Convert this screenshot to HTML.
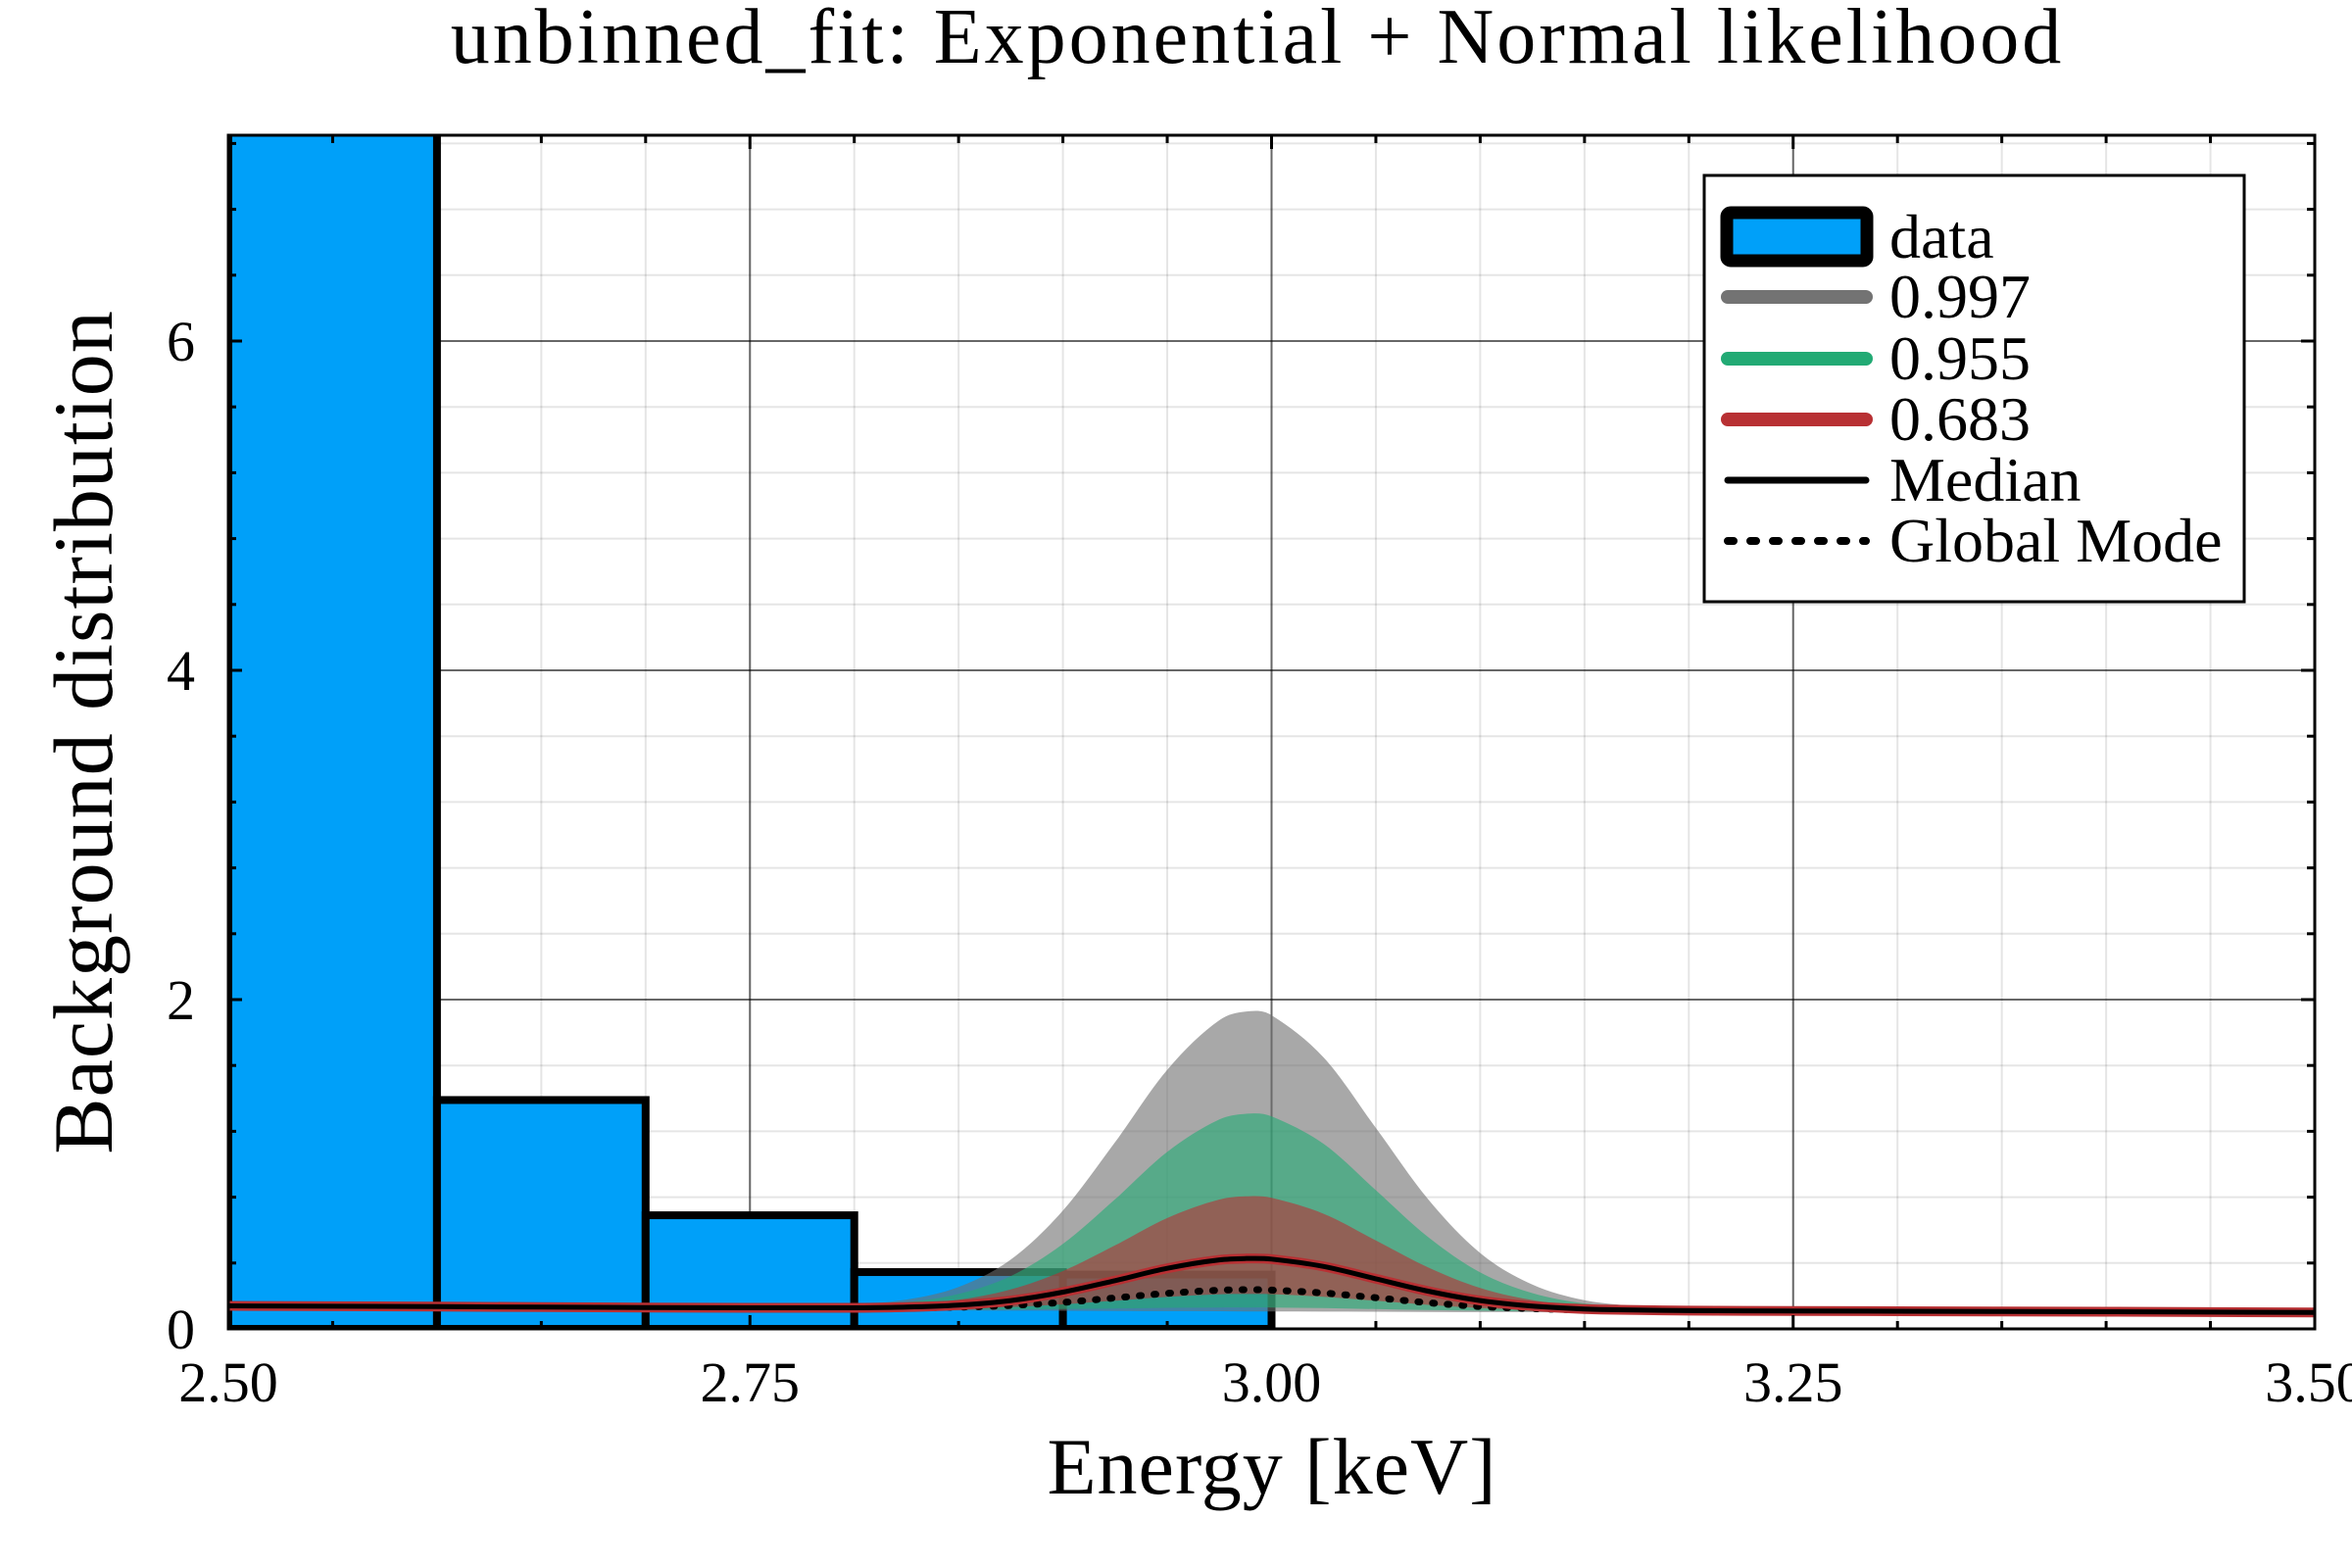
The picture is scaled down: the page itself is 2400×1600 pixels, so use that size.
<!DOCTYPE html>
<html><head><meta charset="utf-8"><style>
html,body{margin:0;padding:0;background:#fff;}
svg{display:block;font-family:"Liberation Serif",serif;}
</style></head><body>
<svg id="chart" width="2400" height="1600" viewBox="0 0 2400 1600" xmlns="http://www.w3.org/2000/svg">
<defs><clipPath id="plotclip"><rect x="233" y="138" width="2129" height="1218"/></clipPath></defs>
<rect width="2400" height="1600" fill="#fff"/>
<text x="1283" y="64" font-size="80" letter-spacing="3" text-anchor="middle">unbinned_fit: Exponential + Normal likelihood</text>
<g id="grid"></g>
<g id="marks" clip-path="url(#plotclip)"></g>
<g id="axes"></g>
<text x="1298" y="1524" font-size="82" letter-spacing="1" text-anchor="middle">Energy [keV]</text>
<text transform="translate(114,747) rotate(-90)" font-size="86" letter-spacing="1" text-anchor="middle">Background distribution</text>
<g id="legend"></g>
</svg>
<script>
const binEdges = [2.5,2.6,2.7,2.8,2.9,3.0,3.1,3.2,3.3,3.4,3.5];
const binCounts = [7.3,1.39,0.69,0.345,0.33,0,0,0,0,0];
const xTicks = [2.5,2.75,3.0,3.25,3.5];
const xTickLabels = ["2.50","2.75","3.00","3.25","3.50"];
const yTicks = [0,2,4,6];
const yTickLabels = ["0","2","4","6"];
const curveX = [2.5,2.6,2.7,2.75,2.8,2.825,2.85,2.875,2.9,2.925,2.95,2.975,2.99,3.0,3.025,3.05,3.075,3.1,3.125,3.15,3.175,3.2,3.3,3.4,3.5];
const medianY = [0.140,0.135,0.130,0.128,0.128,0.132,0.144,0.172,0.223,0.293,0.368,0.419,0.428,0.424,0.379,0.304,0.229,0.172,0.138,0.121,0.114,0.111,0.107,0.104,0.100];
const modeY = [0.140,0.135,0.130,0.128,0.127,0.128,0.132,0.142,0.161,0.188,0.216,0.235,0.238,0.236,0.218,0.189,0.159,0.136,0.123,0.115,0.112,0.110,0.107,0.104,0.100];
const band997Upper = [0.152,0.147,0.142,0.140,0.151,0.178,0.255,0.421,0.719,1.134,1.574,1.875,1.930,1.905,1.648,1.221,0.788,0.461,0.269,0.174,0.139,0.126,0.119,0.116,0.112];
const band997Lower = [0.128,0.123,0.118,0.116,0.114,0.113,0.112,0.111,0.110,0.109,0.108,0.107,0.106,0.106,0.105,0.104,0.103,0.102,0.101,0.100,0.099,0.098,0.095,0.092,0.088];
const band955Upper = [0.150,0.145,0.140,0.138,0.144,0.162,0.212,0.321,0.516,0.787,1.075,1.272,1.308,1.291,1.123,0.842,0.558,0.343,0.217,0.155,0.132,0.122,0.117,0.114,0.110];
const band955Lower = [0.132,0.127,0.122,0.120,0.118,0.117,0.117,0.118,0.121,0.124,0.128,0.130,0.130,0.130,0.126,0.120,0.114,0.110,0.107,0.105,0.103,0.102,0.099,0.096,0.092];
const band683Upper = [0.148,0.143,0.138,0.136,0.139,0.149,0.177,0.239,0.351,0.507,0.673,0.786,0.806,0.796,0.699,0.537,0.373,0.248,0.175,0.139,0.125,0.119,0.115,0.112,0.108];
const band683Lower = [0.134,0.129,0.124,0.122,0.121,0.121,0.125,0.133,0.149,0.171,0.194,0.210,0.212,0.211,0.195,0.171,0.146,0.127,0.115,0.109,0.106,0.104,0.101,0.098,0.094];

const NS="http://www.w3.org/2000/svg";
const L=233,R=2362,T=138,B=1356;
const X0=2.5,X1=3.5,Y0=0,Y1=7.25;
function xs(v){return L+(v-X0)/(X1-X0)*(R-L);}
function ys(v){return B-(v-Y0)/(Y1-Y0)*(B-T);}
function mk(tag,attrs,parent){const e=document.createElementNS(NS,tag);for(const k in attrs)e.setAttribute(k,attrs[k]);parent.appendChild(e);return e;}
function smooth(p){const n=p.length,m=[];
 for(let i=0;i<n;i++){const a=p[Math.max(0,i-1)],b=p[Math.min(n-1,i+1)];m.push((b[1]-a[1])/(b[0]-a[0]));}
 let d="M"+p[0][0].toFixed(1)+","+p[0][1].toFixed(1);
 for(let i=0;i<n-1;i++){const dx=(p[i+1][0]-p[i][0])/3;
  d+=" C"+(p[i][0]+dx).toFixed(1)+","+(p[i][1]+m[i]*dx).toFixed(1)+" "+(p[i+1][0]-dx).toFixed(1)+","+(p[i+1][1]-m[i+1]*dx).toFixed(1)+" "+p[i+1][0].toFixed(1)+","+p[i+1][1].toFixed(1);}
 return d;}
function pts(ys_){return curveX.map((x,i)=>[xs(x),ys(ys_[i])]);}

const grid=document.getElementById('grid');
for(let v=2.5;v<=3.5001;v+=0.05){const l=mk('line',{x1:xs(v),x2:xs(v),y1:T,y2:B,stroke:'rgba(0,0,0,0.1)','stroke-width':2},grid);

}
for(let v=0;v<=7.25;v+=0.4){const l=mk('line',{x1:L,x2:R,y1:ys(v),y2:ys(v),stroke:'rgba(0,0,0,0.1)','stroke-width':2},grid);

}
xTicks.forEach(v=>{const l=mk('line',{x1:xs(v),x2:xs(v),y1:T,y2:B,stroke:'rgba(0,0,0,0.55)','stroke-width':2},grid);

});
yTicks.forEach(v=>{const l=mk('line',{x1:L,x2:R,y1:ys(v),y2:ys(v),stroke:'rgba(0,0,0,0.55)','stroke-width':2},grid);

});

const marks=document.getElementById('marks');
binCounts.forEach((c,i)=>{const x0=xs(binEdges[i]),x1=xs(binEdges[i+1]),y=ys(c);
 const r=mk('rect',{x:x0,y:y,width:x1-x0,height:B-y,fill:'#00a0f9',stroke:'#000','stroke-width':8},marks);
 
 });
function band(up,lo,color,name){const pu=pts(up),pl=pts(lo).reverse();
 let d=smooth(pu);const dl=smooth(pl);d+=" L"+dl.slice(1)+" Z";
 const p=mk('path',{d:d,fill:color,stroke:'none'},marks);
 
 }
band(band997Upper,band997Lower,'rgba(110,110,110,0.6)','band-0997');
band(band955Upper,band955Lower,'rgba(34,171,116,0.6)','band-0955');
band(band683Upper,band683Lower,'rgba(184,48,51,0.6)','band-0683');
const mo=mk('path',{d:smooth(pts(modeY)),fill:'none',stroke:'#000','stroke-width':7,'stroke-dasharray':'2 13','stroke-linecap':'round'},marks);


const mr=mk('path',{d:smooth(pts(medianY)),fill:'none',stroke:'#b83033','stroke-width':10},marks);


const me=mk('path',{d:smooth(pts(medianY)),fill:'none',stroke:'#000','stroke-width':5},marks);



const axes=document.getElementById('axes');
const fr=mk('rect',{x:L,y:T,width:R-L,height:B-T,fill:'none',stroke:'#000','stroke-width':3},axes);


for(let v=2.5;v<=3.5001;v+=0.05){const big=xTicks.some(t=>Math.abs(t-v)<1e-6);const len=big?14:8;
 mk('line',{x1:xs(v),x2:xs(v),y1:B,y2:B-len,stroke:'#000','stroke-width':3},axes);
 mk('line',{x1:xs(v),x2:xs(v),y1:T,y2:T+len,stroke:'#000','stroke-width':3},axes);}
for(let v=0;v<=7.25;v+=0.4){const big=yTicks.some(t=>Math.abs(t-v)<1e-6);const len=big?14:8;
 mk('line',{x1:L,x2:L+len,y1:ys(v),y2:ys(v),stroke:'#000','stroke-width':3},axes);
 mk('line',{x1:R,x2:R-len,y1:ys(v),y2:ys(v),stroke:'#000','stroke-width':3},axes);}
xTicks.forEach((v,i)=>{const t=mk('text',{x:xs(v),y:1430,'font-size':58,'text-anchor':'middle'},axes);t.textContent=xTickLabels[i];
 
 });
yTicks.forEach((v,i)=>{const t=mk('text',{x:199,y:ys(v)+20,'font-size':58,'text-anchor':'end'},axes);t.textContent=yTickLabels[i];
 
 });

const lg=document.getElementById('legend');
const box=mk('rect',{x:1739,y:179,width:551,height:435,fill:'#fff',stroke:'#000','stroke-width':3},lg);


const entries=[["data",242],["0.997",303],["0.955",366],["0.683",428],["Median",490],["Global Mode",552]];
const dr=mk('rect',{x:1762,y:217,width:143,height:49,rx:4,fill:'#00a0f9',stroke:'#000','stroke-width':13},lg);


[['#737373',303],['#22aa74',366],['#b83033',428]].forEach(([c,y])=>{const l=mk('line',{x1:1763,x2:1904,y1:y,y2:y,stroke:c,'stroke-width':14,'stroke-linecap':'round'},lg);
 
 });
const lm=mk('line',{x1:1763,x2:1904,y1:490,y2:490,stroke:'#000','stroke-width':7,'stroke-linecap':'round'},lg);


const ld=mk('line',{x1:1763,x2:1904,y1:552,y2:552,stroke:'#000','stroke-width':8,'stroke-linecap':'round','stroke-dasharray':'6 17'},lg);


entries.forEach(([s,y])=>{const t=mk('text',{x:1928,y:y+21,'font-size':64},lg);t.textContent=s;
 
 });
</script>
</body></html>
